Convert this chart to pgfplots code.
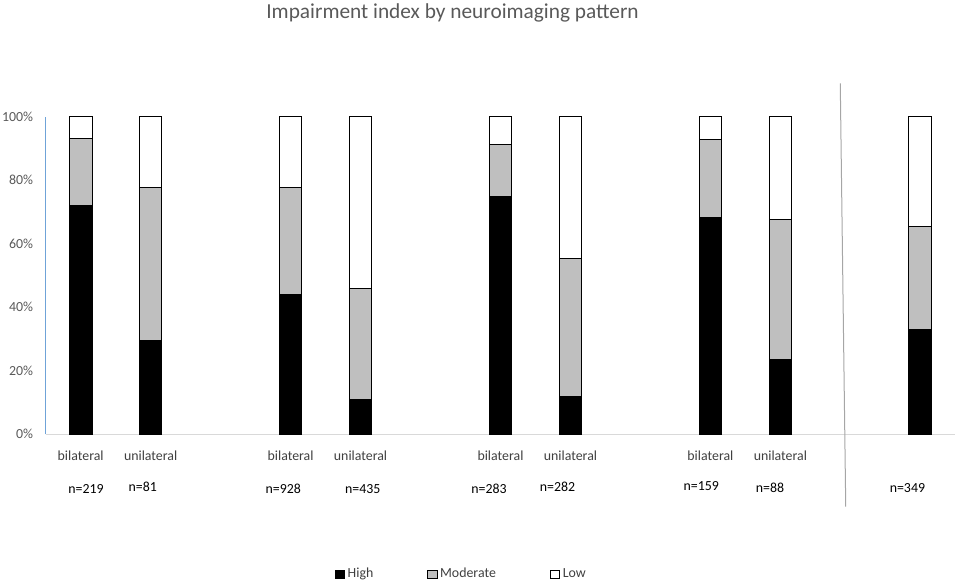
\documentclass[border=0pt]{standalone}
\usepackage{pgfplots}
\usepackage{pgfplotstable}
\pgfplotsset{compat=1.18}
\usepackage{fontspec}
\setmainfont{Carlito}
\definecolor{txtgray}{HTML}{595959}
\definecolor{lblgray}{HTML}{404040}
\definecolor{axblue}{HTML}{6FA3D8}
\definecolor{axgray}{HTML}{D9D9D9}
\definecolor{modgray}{HTML}{BFBFBF}
\definecolor{sepgray}{HTML}{A6A6A6}

\pgfplotstableread{
x high mod low
0 72.0 21.1 6.9
1 29.5 48.1 22.4
3 43.9 33.7 22.4
4 11.1 34.8 54.1
6 74.8 16.6 8.6
7 11.9 43.4 44.7
9 68.3 24.5 7.2
10 23.4 44.3 32.3
12 32.9 32.6 34.5
}\impdata

\begin{document}
\begin{tikzpicture}
\useasboundingbox (0,0) rectangle (717.75pt,436.5pt);
\node[anchor=base, text=txtgray, font=\fontsize{16}{19}\selectfont, inner sep=0pt] at (339.4pt,422.25pt) {Impairment index by neuroimaging pattern};
\begin{axis}[
 at={(34.275pt,110.775pt)}, anchor=south west,
 scale only axis, width=682.2pt, height=238.2pt,
 xmin=-0.5, xmax=12.5, ymin=0, ymax=100,
 clip=false,
 axis x line=bottom, axis y line=left, axis line style={-},
 x axis line style={draw=axgray, line width=0.75pt},
 y axis line style={draw=axblue, line width=0.75pt},
 major tick length=0pt,
 xtick={0,1,3,4,6,7,9,10},
 xticklabels={bilateral,unilateral,bilateral,unilateral,bilateral,unilateral,bilateral,unilateral},
 ytick={0,20,40,60,80,100},
 yticklabels={0\%,20\%,40\%,60\%,80\%,100\%},
 xticklabel style={font=\fontsize{10.4}{12}\selectfont, text=lblgray, anchor=base, inner sep=0pt, yshift=-19.3pt},
 yticklabel style={font=\fontsize{10.4}{12}\selectfont, text=txtgray, anchor=east, inner sep=0pt, xshift=-9.3pt},
 ybar stacked, bar width=17pt,
 legend columns=3,
 legend style={at={(0.4573,-0.44)}, anchor=center, draw=none, fill=none,
   font=\fontsize{10.4}{12}\selectfont, text=lblgray,
   /tikz/every even column/.append style={column sep=38.5pt}},
 legend image code/.code={\draw[#1,draw=black,line width=0.6pt] (0pt,-3pt) rectangle (7pt,3pt);},
]
\addplot[fill=black, draw=black, line width=0.75pt] table[x=x,y=high]{\impdata};
\addplot[fill=modgray, draw=black, line width=0.75pt] table[x=x,y=mod]{\impdata};
\addplot[fill=white, draw=black, line width=0.75pt] table[x=x,y=low]{\impdata};
\legend{High,Moderate,Low}
\node[anchor=base, font=\fontsize{10.4}{12}\selectfont, text=black, inner sep=0pt, yshift=-44.25pt] at (axis cs:0.076,0) {n=219};
\node[anchor=base, font=\fontsize{10.4}{12}\selectfont, text=black, inner sep=0pt, yshift=-43.05pt] at (axis cs:0.888,0) {n=81};
\node[anchor=base, font=\fontsize{10.4}{12}\selectfont, text=black, inner sep=0pt, yshift=-44.25pt] at (axis cs:2.896,0) {n=928};
\node[anchor=base, font=\fontsize{10.4}{12}\selectfont, text=black, inner sep=0pt, yshift=-44.25pt] at (axis cs:4.032,0) {n=435};
\node[anchor=base, font=\fontsize{10.4}{12}\selectfont, text=black, inner sep=0pt, yshift=-44.25pt] at (axis cs:5.835,0) {n=283};
\node[anchor=base, font=\fontsize{10.4}{12}\selectfont, text=black, inner sep=0pt, yshift=-43.05pt] at (axis cs:6.814,0) {n=282};
\node[anchor=base, font=\fontsize{10.4}{12}\selectfont, text=black, inner sep=0pt, yshift=-42.3pt] at (axis cs:8.870,0) {n=159};
\node[anchor=base, font=\fontsize{10.4}{12}\selectfont, text=black, inner sep=0pt, yshift=-43.8pt] at (axis cs:9.851,0) {n=88};
\node[anchor=base, font=\fontsize{10.4}{12}\selectfont, text=black, inner sep=0pt, yshift=-43.8pt] at (axis cs:11.816,0) {n=349};
\end{axis}
\draw[sepgray, line width=0.75pt] (630.2pt,374.0pt) -- (634.3pt,56.5pt);
\end{tikzpicture}
\end{document}
